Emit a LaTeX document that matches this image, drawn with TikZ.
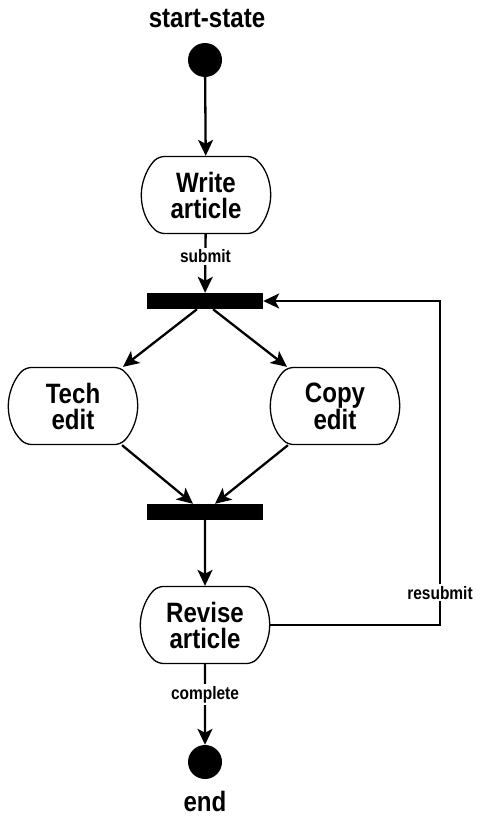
\documentclass[tikz,border=0pt]{standalone}
\usepackage{fontspec}
\setmainfont{Liberation Sans}[FakeStretch=0.86]
\usetikzlibrary{arrows.meta, shapes.misc}
\begin{document}
\begin{tikzpicture}[x=1pt, y=-1pt,
		activity/.style={rounded rectangle, rounded rectangle arc length=100, rounded corners=5pt, draw, line width=1.3pt, minimum width=136pt, minimum height=77pt, align=center, font=\bfseries\fontsize{28}{26}\selectfont},
		bar/.style={fill=black, minimum width=116pt, minimum height=16pt, inner sep=0pt},
		dot/.style={circle, fill=black, minimum size=34pt, inner sep=0pt},
		flow/.style={line width=2.3pt, -{Stealth[length=16pt, width=15pt, inset=4pt]}},
		guard/.style={fill=white, inner sep=2pt, font=\bfseries\fontsize{18}{18}\selectfont},
		caption/.style={font=\bfseries\fontsize{28}{28}\selectfont}]
		\useasboundingbox (0,0) rectangle (480,816);
		% Start and end states
		\node[caption] (startlabel) at (207,19) {start-state};
		\node[dot] (start) at (205,60) {};
		\node[dot] (end) at (205,762) {};
		\node[caption] (endlabel) at (205,801) {end};
		% Activities
		\node[activity] (write) at (206,195) {Write\\article};
		\node[activity] (tech) at (73,406) {Tech\\edit};
		\node[activity] (copy) at (335,406) {Copy\\edit};
		\node[activity] (revise) at (205,625) {Revise\\article};
		% Fork and join bars
		\node[bar] (fork) at (205,301) {};
		\node[bar] (join) at (205,512) {};
		\coordinate (loop) at (440,301);
		% Transitions
		\draw[flow] (start) -- (write);
		\draw[flow] (write) -- node[guard, pos=0.38] {submit} (fork);
		\draw[flow] ([xshift=-8pt]fork.south) -- ([xshift=50pt]tech.north);
		\draw[flow] ([xshift=8pt]fork.south) -- ([xshift=-48pt]copy.north);
		\draw[flow] ([xshift=49pt]tech.south) -- ([xshift=-12pt]join.north);
		\draw[flow] ([xshift=-47pt]copy.south) -- ([xshift=10pt]join.north);
		\draw[flow] (join) -- (revise);
		\draw[flow] (revise) -- node[guard, pos=0.38] {complete} (end);
		\draw[flow] (revise.east) -| node[guard, pos=0.55] {resubmit} (loop) -- (fork.east);
\end{tikzpicture}
\end{document}
